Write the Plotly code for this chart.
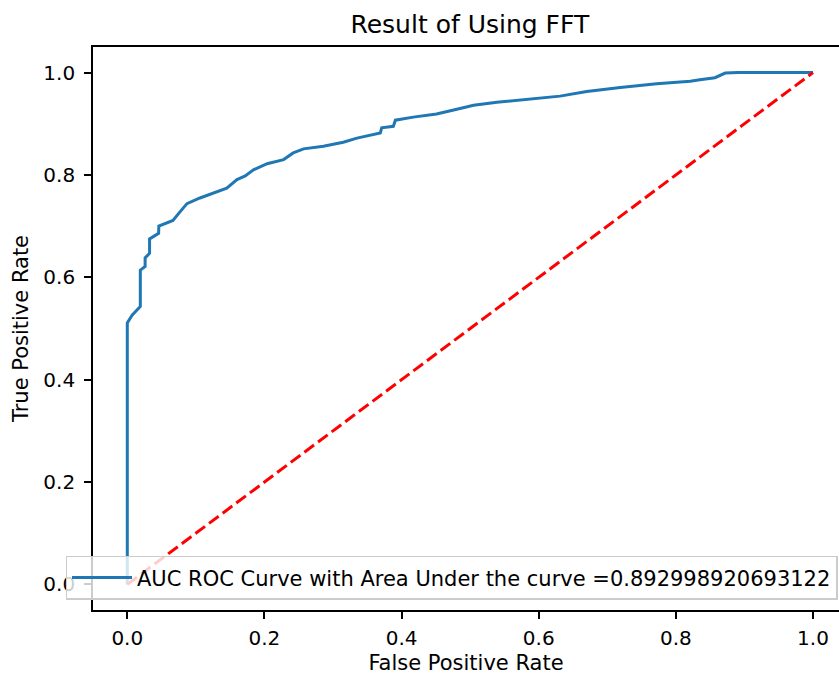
import plotly.graph_objects as go

# ROC curve points
fpr = [0, 0, 0.007, 0.019, 0.019, 0.026, 0.026, 0.0325, 0.0325, 0.0457,
       0.046, 0.0666, 0.075, 0.087, 0.106, 0.126, 0.145, 0.16, 0.172, 0.184,
       0.204, 0.228, 0.242, 0.257, 0.286, 0.315, 0.335, 0.369, 0.371, 0.388,
       0.391, 0.417, 0.451, 0.476, 0.505, 0.539, 0.587, 0.631, 0.670, 0.719,
       0.772, 0.821, 0.835, 0.857, 0.872, 0.884, 0.891, 1.0]
tpr = [0, 0.511, 0.526, 0.543, 0.614, 0.621, 0.638, 0.647, 0.675, 0.686,
       0.70, 0.711, 0.725, 0.744, 0.755, 0.765, 0.774, 0.791, 0.798, 0.81,
       0.822, 0.830, 0.843, 0.851, 0.856, 0.864, 0.872, 0.882, 0.892, 0.895,
       0.907, 0.913, 0.919, 0.927, 0.936, 0.942, 0.949, 0.954, 0.963, 0.971,
       0.978, 0.983, 0.986, 0.990, 0.999, 1.0, 1.0, 1.0]

diag_x = [0, 1]
diag_y = [0, 1]

auc_value = "0.892998920693122"
legend_label = "AUC ROC Curve with Area Under the curve =" + auc_value

tick_vals = [0.0, 0.2, 0.4, 0.6, 0.8, 1.0]
tick_text = ["0.0", "0.2", "0.4", "0.6", "0.8", "1.0"]

FONT = "DejaVu Sans"

fig = go.Figure()
fig.add_trace(go.Scatter(x=fpr, y=tpr, mode="lines", name=legend_label,
                         line=dict(color="#1f77b4", width=3)))
fig.add_trace(go.Scatter(x=diag_x, y=diag_y, mode="lines", showlegend=False,
                         line=dict(color="red", width=3, dash="12px,5px")))

axis_common = dict(
    showgrid=False, zeroline=False, showline=True, linecolor="black",
    linewidth=1.7, ticks="outside", ticklen=7, tickwidth=1.7,
    tickcolor="black", tickvals=tick_vals, ticktext=tick_text,
    tickfont=dict(family=FONT, size=20, color="black"),
)

fig.update_layout(
    width=839, height=675,
    margin=dict(l=93, r=0, t=47, b=65),
    paper_bgcolor="white", plot_bgcolor="white",
    font=dict(family=FONT, color="black"),
    title=dict(text="Result of Using FFT", x=0.56, xref="container",
               xanchor="center", y=1 - 24 / 675, yref="container",
               yanchor="middle", font=dict(family=FONT, size=25, color="black")),
    xaxis=dict(range=[-0.05, 1.0379], mirror=True, ticklabelstandoff=2,
               title=dict(text="False Positive Rate", standoff=6,
                          font=dict(family=FONT, size=21, color="black")),
               **axis_common),
    yaxis=dict(range=[-0.05, 1.05], mirror=False, ticklabelstandoff=5,
               title=dict(text="True Positive Rate", standoff=9,
                          font=dict(family=FONT, size=21, color="black")),
               **axis_common),
    legend=dict(x=0.998, xanchor="right", y=0.018, yanchor="bottom",
                itemwidth=60,
                bgcolor="rgba(255,255,255,0.8)", bordercolor="#cccccc",
                borderwidth=1.5, font=dict(family=FONT, size=21, color="black")),
    showlegend=True,
)

fig.write_html("out.html")
